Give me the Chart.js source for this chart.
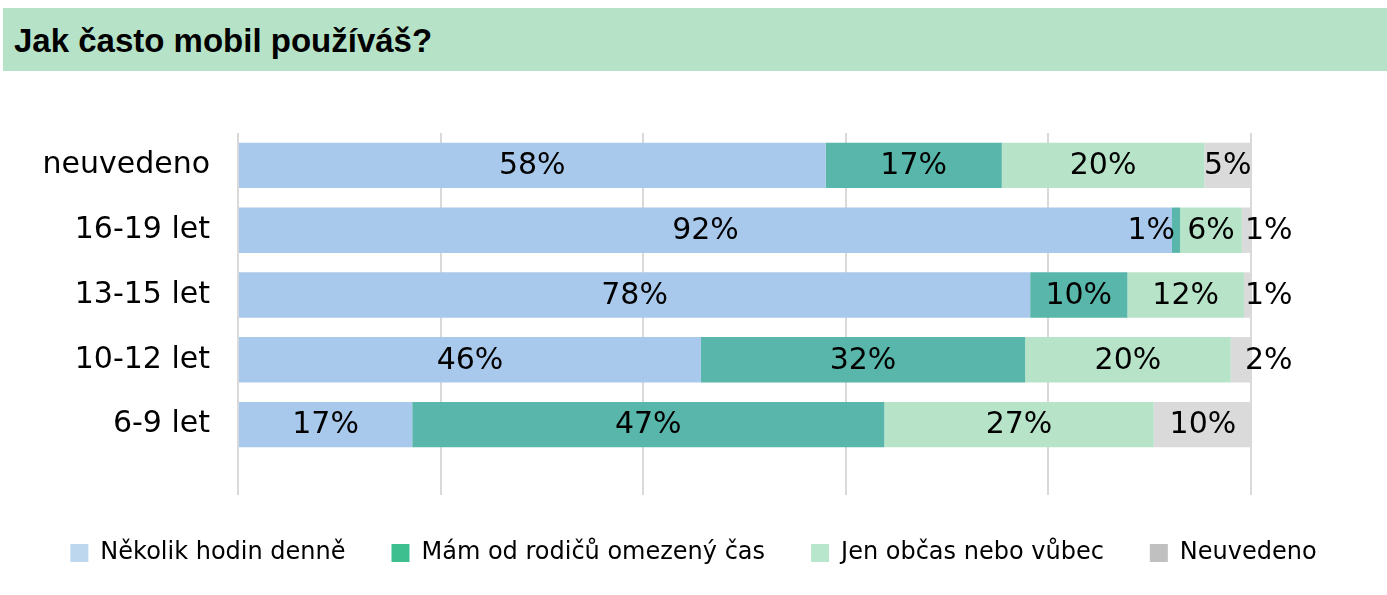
<!DOCTYPE html>
<html>
<head>
<meta charset="utf-8">
<script src="https://cdn.jsdelivr.net/npm/chart.js@4"></script>
<style>
  html, body { margin: 0; padding: 0; background: #fff; }
  #wrap { position: relative; width: 1387px; height: 595px; }
  #title {
    position: absolute; left: 3px; top: 8px; width: 1384px; height: 63px;
    background: #b6e3c8; box-sizing: border-box; padding: 3px 0 0 11px;
    font: bold 33px "Liberation Sans", Arial, sans-serif;
    line-height: 60px; color: #000;
  }
  canvas { position: absolute; left: 0; top: 0; }
</style>
</head>
<body>
<div id="wrap">
  <canvas id="chart" width="1387" height="595"></canvas>
  <div id="title">Jak často mobil používáš?</div>
</div>
<script>
const groups = ['neuvedeno', '16-19 let', '13-15 let', '10-12 let', '6-9 let'];
const seriesNames = ['Několik hodin denně', 'Mám od rodičů omezený čas', 'Jen občas nebo vůbec', 'Neuvedeno'];
// shares in % (labels show them rounded)
const hodinDenne = [58.0, 92.2, 78.2, 45.7, 17.2];
const omezenyCas = [17.4, 0.8, 9.6, 32.0, 46.6];
const obcas = [20.0, 6.1, 11.5, 20.3, 26.6];
const neuvedeno = [4.6, 0.9, 0.7, 2.0, 9.7];

const barColors = ['#a9c9ec', '#59b6aa', '#b7e3c8', '#dadada'];
const legendColors = ['#bcd7ee', '#3dbf8f', '#b8e6cc', '#c0c0c0'];

const labelFont = '30px "DejaVu Sans", Verdana, sans-serif';

const segmentLabels = {
  id: 'segmentLabels',
  afterDatasetsDraw(chart) {
    const ctx = chart.ctx;
    const last = chart.data.datasets.length - 1;
    ctx.save();
    ctx.font = labelFont;
    ctx.fillStyle = '#000';
    ctx.textBaseline = 'middle';
    chart.data.datasets.forEach((ds, di) => {
      chart.getDatasetMeta(di).data.forEach((bar, i) => {
        const txt = Math.round(ds.data[i]) + '%';
        const w = Math.abs(bar.x - bar.base);
        if (w >= 40) {
          ctx.textAlign = 'center';
          ctx.fillText(txt, (bar.x + bar.base) / 2, bar.y + 1);
        } else if (di === last) {
          ctx.textAlign = 'left';
          ctx.fillText(txt, Math.min(bar.x, chart.chartArea.right) - 6, bar.y + 1);
        } else {
          ctx.textAlign = 'right';
          ctx.fillText(txt, bar.base + 3, bar.y + 1);
        }
      });
    });
    ctx.restore();
  }
};

new Chart(document.getElementById('chart'), {
  type: 'bar',
  data: {
    labels: groups,
    datasets: [hodinDenne, omezenyCas, obcas, neuvedeno].map((d, k) => ({
      label: seriesNames[k],
      data: d,
      backgroundColor: barColors[k],
      borderWidth: 0,
      barPercentage: 0.7,
      categoryPercentage: 1
    }))
  },
  options: {
    indexAxis: 'y',
    responsive: false,
    animation: false,
    devicePixelRatio: 1,
    layout: { padding: { top: 133, bottom: 20, left: 0, right: 0 } },
    scales: {
      x: {
        stacked: true,
        min: 0, max: 100,
        ticks: { display: false, stepSize: 20 },
        grid: { color: '#d9d9d9', lineWidth: 2, drawTicks: true, tickLength: 38, tickColor: '#d9d9d9' },
        border: { display: false }
      },
      y: {
        stacked: true,
        grid: { display: false, drawTicks: false },
        border: { display: false },
        ticks: { color: '#000', padding: 28, font: { family: '"DejaVu Sans", Verdana, sans-serif', size: 30 } },
        afterFit: s => { s.width = 238; }
      },
      yRight: {
        type: 'category',
        position: 'right',
        grid: { display: false, drawTicks: false },
        border: { display: false },
        ticks: { display: false },
        afterFit: s => { s.width = 136; }
      }
    },
    plugins: {
      tooltip: { enabled: false },
      legend: {
        position: 'bottom',
        labels: {
          color: '#000',
          boxWidth: 18,
          boxHeight: 18,
          padding: 46,
          font: { family: '"DejaVu Sans", Verdana, sans-serif', size: 24 },
          generateLabels: chart => chart.data.datasets.map((ds, k) => ({
            text: ds.label,
            fillStyle: legendColors[k],
            strokeStyle: legendColors[k],
            lineWidth: 0,
            hidden: false,
            datasetIndex: k,
            fontColor: '#000'
          }))
        }
      }
    }
  },
  plugins: [segmentLabels]
});
</script>
</body>
</html>
